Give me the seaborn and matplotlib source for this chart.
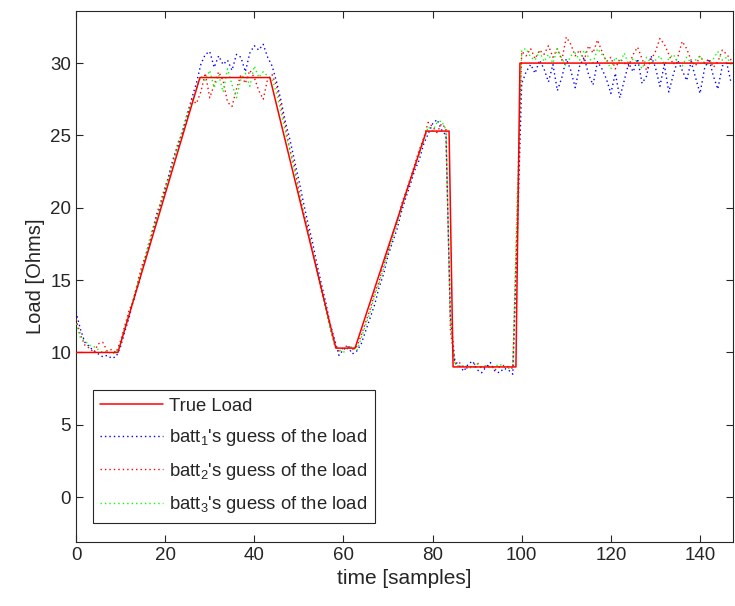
import numpy as np
import pandas as pd
import matplotlib
matplotlib.use("Agg")
import matplotlib.pyplot as plt
import seaborn as sns

# True load (breakpoints of the piecewise-linear profile)
true_t = [0, 9.4, 27.8, 43.5, 58.3, 62.6, 78.6, 83.7, 84.6, 98.7, 99.6, 147.4]
true_load = [10, 10, 29, 29, 10.3, 10.3, 25.3, 25.3, 9, 9, 30, 30]

# Estimates of each battery (one value per sample, t = 0..147)
batt1 = [12.8, 11.6, 10.7, 10.4, 10.1, 9.9, 9.7, 9.8, 9.6, 9.7,
         10.4, 11.5, 12.5, 13.8, 14.7, 15.9, 17.1, 18.0, 19.3, 20.2,
         21.2, 22.5, 23.6, 24.3, 25.4, 26.5, 27.6, 28.6,
         29.9, 30.6, 30.8, 29.7, 30.5, 29.9, 30.2, 29.5, 30.6, 30.4, 29.4, 30.7, 31.2, 30.9, 31.3, 30.4,
         29.8, 28.7, 27.4, 25.9, 24.7, 23.3, 21.9, 20.4, 19.0, 17.7, 16.2, 14.8, 13.5, 12.0, 10.9,
         9.8, 10.2, 10.4, 9.9, 10.1,
         10.6, 11.5, 12.4, 13.3, 14.5, 15.4, 16.7, 17.6, 18.5, 19.7, 20.7, 21.6, 22.6, 23.3, 24.4,
         25.1, 25.8, 26.1, 25.4, 25.0, 12.5,
         9.4, 9.1, 8.7, 9.2, 9.4, 8.8, 8.6, 9.0, 9.3, 8.7, 8.6, 8.9, 8.8, 8.5,
         18.0, 28.6, 29.4, 29.9, 29.3, 30.2, 29.6, 28.7, 29.9, 28.1,
         29.0, 30.3, 29.5, 28.3, 29.8, 30.4, 29.2, 28.5, 30.1, 29.6,
         28.9, 27.9, 29.3, 27.6, 28.8, 30.0, 29.4, 30.3, 28.6, 29.1,
         30.5, 29.7, 28.4, 29.9, 28.0, 29.2, 30.2, 29.5, 28.8, 30.1,
         29.0, 27.9, 29.6, 30.3, 29.1, 28.2, 29.8, 30.0, 28.6]

batt2 = [12.3, 11.2, 10.5, 10.3, 10.0, 10.6, 10.7, 10.1, 10.2, 10.0,
         10.8, 11.9, 13.0, 13.6, 15.1, 16.2, 16.9, 18.2, 19.5, 20.4,
         21.5, 22.2, 23.5, 24.6, 25.2, 26.3, 27.5, 27.2,
         28.0, 29.3, 27.6, 28.5, 29.4, 28.8, 27.3, 27.0, 28.2, 29.2, 28.6, 29.5, 29.0, 28.1, 27.5, 28.9,
         29.2, 28.4, 27.0, 25.6, 24.0, 22.9, 21.2, 19.7, 18.6, 17.1, 15.8, 14.3, 13.1, 11.8, 10.6,
         10.1, 10.3, 10.5, 10.2, 10.4,
         11.2, 12.1, 13.0, 14.1, 14.9, 16.1, 17.0, 18.1, 19.0, 20.2, 21.1, 22.0, 23.0, 24.0, 24.8,
         25.9, 25.6, 25.2, 25.8, 25.5, 11.5,
         9.2, 9.3, 9.0, 8.9, 9.1, 9.3, 8.9, 9.0, 9.1, 8.8, 9.0, 9.1, 9.0, 8.9,
         19.5, 30.8, 30.5, 31.0, 30.3, 30.9, 30.6, 31.2, 30.4, 31.0,
         30.2, 31.8, 31.3, 30.5, 30.9, 30.2, 31.2, 30.7, 31.6, 30.8,
         30.1, 30.4, 29.6, 30.3, 30.0, 29.8, 30.6, 31.1, 30.3, 29.5,
         30.2, 30.8, 31.7, 31.3, 30.6, 29.9, 30.4, 31.5, 31.0, 30.2,
         29.8, 30.5, 30.0, 30.3, 29.7, 30.1, 30.9, 30.6, 30.2]

batt3 = [12.0, 11.0, 10.8, 10.5, 10.4, 10.2, 10.0, 10.1, 9.9, 10.0,
         10.6, 11.8, 12.7, 13.9, 15.0, 16.0, 17.2, 18.4, 19.1, 20.3,
         21.3, 22.4, 23.3, 24.5, 25.5, 26.6, 27.3, 28.2,
         29.1, 28.8, 29.5, 28.3, 29.2, 28.0, 29.6, 28.5, 27.6, 28.9, 29.3, 28.4, 29.8, 29.0, 29.4, 29.1,
         28.9, 27.9, 26.6, 25.2, 23.9, 22.6, 21.0, 19.8, 18.4, 17.0, 15.6, 14.4, 13.0, 11.6, 10.5,
         10.2, 10.0, 10.3, 10.4, 10.1,
         11.0, 11.9, 12.8, 13.9, 14.8, 15.8, 16.9, 17.8, 18.9, 19.9, 21.0, 21.9, 22.8, 23.7, 24.6,
         25.6, 25.3, 25.9, 26.0, 25.4, 12.0,
         9.3, 9.0, 9.1, 9.0, 8.9, 9.2, 9.0, 9.1, 8.9, 9.0, 9.2, 9.0, 8.9, 9.0,
         21.0, 30.9, 31.0, 30.4, 30.2, 30.8, 30.1, 30.6, 30.0, 31.0,
         30.3, 29.8, 30.5, 30.7, 30.2, 30.9, 30.4, 30.0, 31.0, 30.6,
         30.2, 29.6, 30.4, 30.0, 30.7, 29.9, 30.3, 30.1, 29.6, 30.4,
         30.0, 30.2, 30.5, 29.9, 30.3, 30.6, 30.1, 29.8, 30.4, 30.0,
         30.2, 30.5, 30.0, 29.9, 30.3, 30.8, 30.2, 30.4, 29.9]

labels = ["True Load",
          r"batt$_1$'s guess of the load",
          r"batt$_2$'s guess of the load",
          r"batt$_3$'s guess of the load"]

sns.set_style("ticks")
plt.rcParams["font.family"] = ["Liberation Sans", "DejaVu Sans"]
plt.rcParams["mathtext.fontset"] = "custom"
plt.rcParams["mathtext.rm"] = "Liberation Sans"
plt.rcParams["mathtext.it"] = "Liberation Sans"
plt.rcParams["xtick.direction"] = "in"
plt.rcParams["ytick.direction"] = "in"

fig = plt.figure(figsize=(7.35, 6.06), dpi=100)
ax = fig.add_axes([76 / 735, 1 - 542 / 606, (733 - 76) / 735, (542 - 11) / 606])

df_true = pd.DataFrame({"t": true_t, "load": true_load})
h_true, = ax.plot(df_true["t"], df_true["load"], color="#ff0000", lw=1.1, zorder=5)

handles = [h_true]
for vals, col in [(batt1, "#0000ff"), (batt2, "#ff0000"), (batt3, "#00ff00")]:
    df = pd.DataFrame({"t": np.arange(len(vals)), "load": vals})
    sns.lineplot(data=df, x="t", y="load", ax=ax, color=col, lw=1.0,
                 linestyle=(0, (1, 2.2)), zorder=3)
    handles.append(ax.lines[-1])

ax.set_xlim(0, 147.4)
ax.set_ylim(-3.1, 33.6)
ax.set_xticks(range(0, 141, 20))
ax.set_yticks(range(0, 31, 5))
ax.tick_params(labelsize=13.5, colors="#262626", length=5, top=True, right=True)
for s in ax.spines.values():
    s.set_color("#262626")
    s.set_linewidth(0.8)
ax.set_xlabel("time [samples]", fontsize=15, color="#262626")
ax.set_ylabel("Load [Ohms]", fontsize=14.5, color="#262626")

leg = ax.legend(handles, labels, loc="lower left", bbox_to_anchor=(0.026, 0.036),
                fontsize=13.3, frameon=True, fancybox=False, framealpha=1,
                edgecolor="#262626", handlelength=3.4, labelspacing=0.68,
                borderaxespad=0, borderpad=0.4, handletextpad=0.3)
leg.get_frame().set_linewidth(0.8)

fig.savefig("out.png", dpi=100)
